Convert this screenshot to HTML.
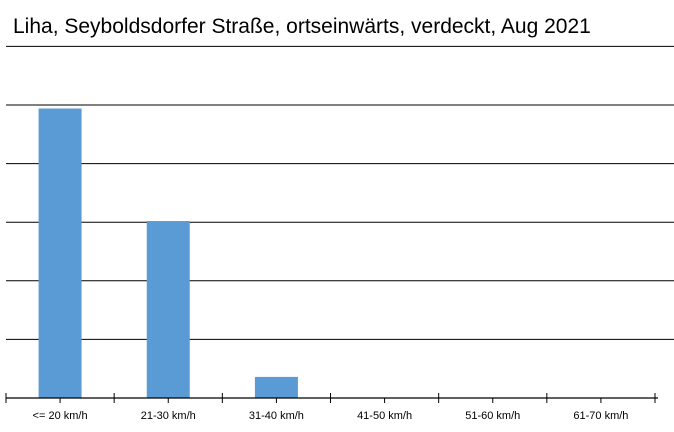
<!DOCTYPE html>
<html><head><meta charset="utf-8"><style>
body{margin:0;background:#fff;}
svg{display:block;font-family:"Liberation Sans",sans-serif;}
</style></head><body>
<svg id="c" width="674" height="432">
<text x="13" y="33" font-size="21" fill="#000" font-family="Liberation Sans, sans-serif">Liha, Seyboldsdorfer Straße, ortseinwärts, verdeckt, Aug 2021</text>
<g id="grid"></g><g id="bars"></g><g id="axis"></g>
</svg>
<script>
const categories = ["<= 20 km/h","21-30 km/h","31-40 km/h","41-50 km/h","51-60 km/h","61-70 km/h"];
const values = [4.94, 3.02, 0.36, 0, 0, 0];
const gridTicks = [1,2,3,4,5,6];
const NS="http://www.w3.org/2000/svg";
const x0=6, x1=655, y0=398, unit=58.6;
const bw=(x1-x0)/categories.length;
const y=v=>y0-v*unit;
const xc=i=>x0+bw*(i+0.5);
function mk(t,a,p){const e=document.createElementNS(NS,t);for(const k in a)e.setAttribute(k,a[k]);p.appendChild(e);return e;}
const g=document.getElementById('grid'),b=document.getElementById('bars'),ax=document.getElementById('axis');
gridTicks.forEach(v=>{const l=mk('line',{x1:6,x2:674,y1:y(v),y2:y(v),stroke:'#000','stroke-width':1},g);

});
values.forEach((v,i)=>{if(v<=0)return;const r=mk('rect',{x:xc(i)-21.5,y:y(v),width:43,height:y0-y(v),fill:'#5b9bd5'},b);

});
const al=mk('line',{x1:x0,x2:x1+3,y1:y0,y2:y0,stroke:'#000','stroke-width':1.3},ax);


for(let i=0;i<=categories.length;i++){const t=mk('line',{x1:x0+bw*i,x2:x0+bw*i,y1:y0-5,y2:y0+5,stroke:'#000'},ax);

}
categories.forEach((c,i)=>{const t=mk('line',{x1:xc(i),x2:xc(i),y1:y0,y2:y0+5,stroke:'#000'},ax);


const tx=mk('text',{x:xc(i),y:419,'text-anchor':'middle','font-size':11,fill:'#000'},ax);tx.textContent=c;

});
</script>
</body></html>
